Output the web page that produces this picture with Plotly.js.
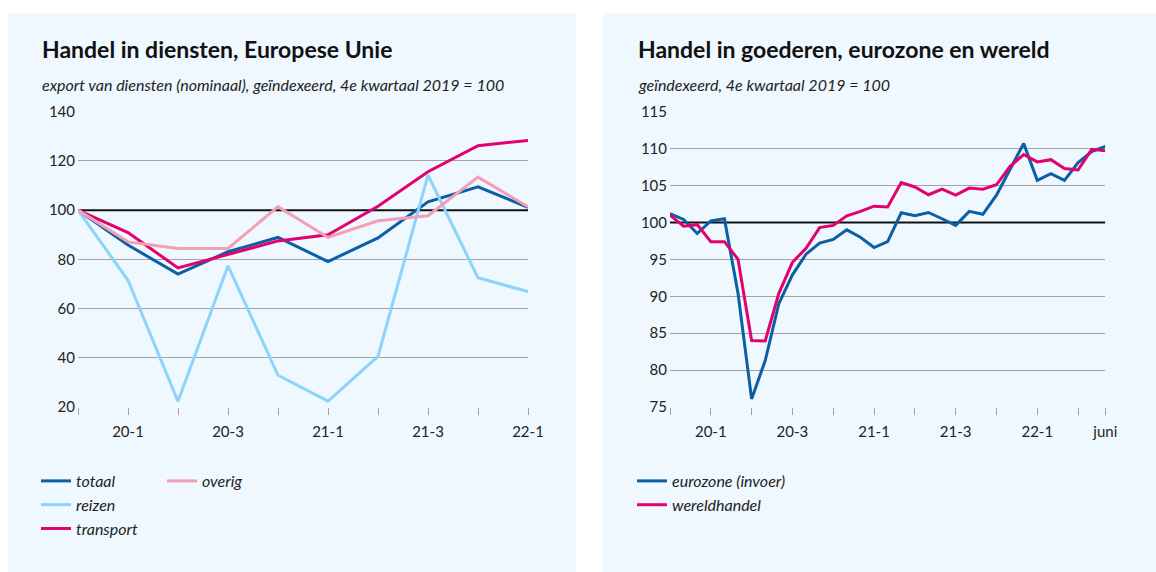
<!DOCTYPE html>
<html>
<head>
<meta charset="utf-8">
<script src="https://cdn.plot.ly/plotly-3.0.1.min.js"></script>
<style>html,body{margin:0;padding:0;background:#fff;}#chart{width:1156px;height:572px;}</style>
</head>
<body>
<div id="chart"></div>
<script>
// ---- Left chart: services (quarterly) ----
const quarters = ['19-4','20-1','20-2','20-3','20-4','21-1','21-2','21-3','21-4','22-1'];
const quarterLabels = ['','20-1','','20-3','','21-1','','21-3','','22-1'];
const totaal    = [100, 85.8, 74.0, 83.1, 88.9, 79.1, 88.7, 103.4, 109.5, 101.1];
const reizen    = [100, 71.5, 22.3, 77.4, 32.9, 22.4, 40.6, 114.2, 72.5, 66.9];
const transport = [100, 90.9, 76.5, 82.1, 87.5, 90.0, 101.6, 115.6, 126.2, 128.3];
const overig    = [100, 87.1, 84.4, 84.4, 101.4, 88.9, 95.7, 97.7, 113.4, 101.4];

// ---- Right chart: goods (monthly) ----
const months = ['2019-10','2019-11','2019-12','2020-01','2020-02','2020-03','2020-04','2020-05','2020-06',
  '2020-07','2020-08','2020-09','2020-10','2020-11','2020-12','2021-01','2021-02','2021-03','2021-04',
  '2021-05','2021-06','2021-07','2021-08','2021-09','2021-10','2021-11','2021-12','2022-01','2022-02',
  '2022-03','2022-04','2022-05','2022-06'];
const monthTickVals = ['2019-10','2020-01','2020-04','2020-07','2020-10','2021-01','2021-04','2021-07','2021-10','2022-01','2022-04','2022-06'];
const monthTickText = ['','20-1','','20-3','','21-1','','21-3','','22-1','','juni'];
const eurozone = [101.2, 100.4, 98.5, 100.2, 100.5, 90.4, 76.1, 81.3, 89.0, 92.9, 95.7, 97.2, 97.7, 99.0, 98.0,
  96.6, 97.4, 101.3, 100.9, 101.35, 100.5, 99.6, 101.5, 101.1, 103.7, 107.1, 110.7, 105.7, 106.6, 105.7,
  108.1, 109.6, 110.3];
const wereldhandel = [101.0, 99.5, 99.7, 97.4, 97.4, 95.0, 84.0, 83.95, 90.4, 94.6, 96.5, 99.3, 99.6, 100.9, 101.5,
  102.2, 102.1, 105.4, 104.8, 103.75, 104.5, 103.7, 104.65, 104.5, 105.1, 107.6, 109.2, 108.2, 108.5, 107.3,
  107.1, 109.9, 109.7];

// index base level (4e kwartaal 2019 = 100)
const baseLevel = 100;

const C = {dark:'#0b5fa5', light:'#8dd3fb', mag:'#e3006f', pink:'#f39fb5', bg:'#eef8fe', grid:'#a3a3a3'};
const W = 1156, H = 572;
const FONT = 'Lato, "Open Sans", sans-serif';

function tr(x, y, name, color, xa, ya, legend) {
  return {x:x, y:y, name:name, type:'scatter', mode:'lines', xaxis:xa, yaxis:ya, legend:legend,
    line:{color:color, width:3}, hoverinfo:'skip'};
}
function base(cats, xa, ya) {
  const ends = [cats[0], cats[cats.length - 1]];
  return {x:ends, y:ends.map(() => baseLevel), type:'scatter', mode:'lines', xaxis:xa, yaxis:ya,
    showlegend:false, line:{color:'#111', width:2}, hoverinfo:'skip'};
}

const data = [
  base(quarters, 'x', 'y'),
  base(months, 'x2', 'y2'),
  tr(quarters, totaal, 'totaal', C.dark, 'x', 'y', 'legend'),
  tr(quarters, reizen, 'reizen', C.light, 'x', 'y', 'legend'),
  tr(quarters, transport, 'transport', C.mag, 'x', 'y', 'legend'),
  tr(quarters, overig, 'overig', C.pink, 'x', 'y', 'legend2'),
  tr(months, eurozone, 'eurozone (invoer)', C.dark, 'x2', 'y2', 'legend3'),
  tr(months, wereldhandel, 'wereldhandel', C.mag, 'x2', 'y2', 'legend3')
];

const px = v => v / W, py = v => 1 - v / H;

const tickFont = {family: FONT, size: 15, color: '#222'};
const yCommon = {showgrid:true, gridcolor:C.grid, gridwidth:1, zeroline:false, showline:false,
  ticks:'', tickfont:tickFont, fixedrange:true, ticklabelstandoff:2};
const xCommon = {type:'category', showgrid:false, zeroline:false, showline:false, ticks:'outside',
  ticklen:7, tickcolor:C.grid, tickwidth:1, tickfont:tickFont, fixedrange:true, ticklabelstandoff:4,
  categoryorder:'array'};

const legFont = {family: FONT, size: 16, color:'#222', style:'italic'};
function leg(x, y) {
  return {x:px(x), y:py(y), xanchor:'left', yanchor:'top', bgcolor:'rgba(0,0,0,0)', font:legFont,
    orientation:'v', itemwidth:30, tracegroupgap:0};
}

const layout = {
  width: W, height: H,
  margin: {l:0, r:0, t:0, b:0},
  paper_bgcolor: '#ffffff',
  plot_bgcolor: 'rgba(0,0,0,0)',
  showlegend: true,
  font: {family: FONT, color:'#222'},
  xaxis: Object.assign({}, xCommon, {domain:[px(78), px(528)], range:[0, 9], anchor:'y',
    categoryarray: quarters, tickvals: quarters, ticktext: quarterLabels}),
  yaxis: Object.assign({}, yCommon, {domain:[py(407), py(111.7)], range:[20, 140], anchor:'x',
    tickvals:[20,40,60,80,100,120,140]}),
  xaxis2: Object.assign({}, xCommon, {domain:[px(670), px(1105.3)], range:[0, 32], anchor:'y2',
    categoryarray: months, tickvals: monthTickVals, ticktext: monthTickText}),
  yaxis2: Object.assign({}, yCommon, {domain:[py(407), py(111.7)], range:[75, 115], anchor:'x2',
    tickvals:[75,80,85,90,95,100,105,110,115]}),
  legend: leg(36, 464),
  legend2: leg(162, 464),
  legend3: leg(632, 464),
  shapes: [
    {type:'rect', xref:'paper', yref:'paper', x0:px(8), x1:px(576), y0:0, y1:py(13),
      fillcolor:C.bg, line:{width:0}, layer:'below'},
    {type:'rect', xref:'paper', yref:'paper', x0:px(603), x1:1, y0:0, y1:py(13),
      fillcolor:C.bg, line:{width:0}, layer:'below'}
  ],
  annotations: [
    {xref:'paper', yref:'paper', x:px(40), y:py(49), xanchor:'left', yanchor:'middle', showarrow:false,
      text:'<b>Handel in diensten, Europese Unie</b>', font:{family:FONT, size:23, color:'#111'}},
    {xref:'paper', yref:'paper', x:px(40), y:py(85), xanchor:'left', yanchor:'middle', showarrow:false,
      text:'export van diensten (nominaal), geïndexeerd, 4e kwartaal 2019 = 100',
      font:{family:FONT, size:16, color:'#222', style:'italic'}},
    {xref:'paper', yref:'paper', x:px(636), y:py(49), xanchor:'left', yanchor:'middle', showarrow:false,
      text:'<b>Handel in goederen, eurozone en wereld</b>', font:{family:FONT, size:23, color:'#111'}},
    {xref:'paper', yref:'paper', x:px(636), y:py(85), xanchor:'left', yanchor:'middle', showarrow:false,
      text:'geïndexeerd, 4e kwartaal 2019 = 100',
      font:{family:FONT, size:16, color:'#222', style:'italic'}}
  ]
};

Plotly.newPlot('chart', data, layout, {displayModeBar:false, staticPlot:true});
</script>
</body>
</html>
